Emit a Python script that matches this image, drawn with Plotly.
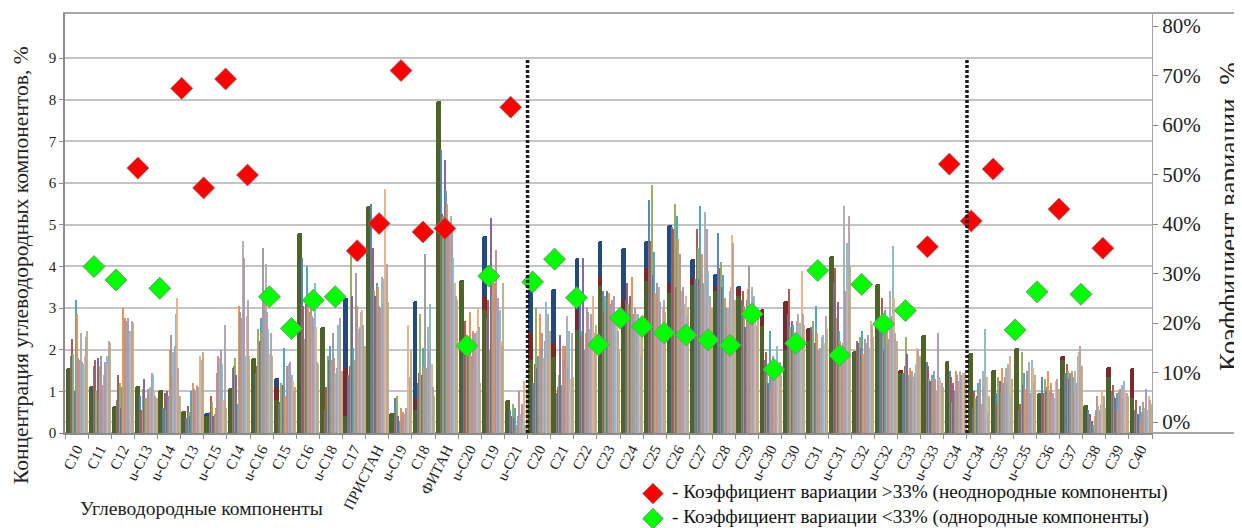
import plotly.graph_objects as go

# ---------------- data ----------------
categories = ["C10", "C11", "C12", "u-C13", "u-C14", "C13", "u-C15", "C14", "u-C16", "C15",
              "C16", "u-C18", "C17", "ПРИСТАН", "u-C19", "C18", "ФИТАН", "u-C20", "C19", "u-C21",
              "C20", "C21", "C22", "C23", "C24", "C25", "C26", "C27", "C28", "C29",
              "u-C30", "C30", "C31", "u-C31", "C32", "u-C32", "C33", "u-C33", "C34", "u-C34",
              "C35", "u-C35", "C36", "C37", "C38", "C39", "C40"]

# thick (highlighted) samples
navy_sample = [None, None, None, None, 0.67, None, 0.47, None, None, 1.31,
               3.52, None, 3.24, 4.75, None, 3.18, 6.48, 2.75, 4.74, None,
               3.46, 3.46, 4.2, 4.6, 4.44, 4.62, 5.0, 4.18, 3.82, 3.52,
               None, None, None, None, None, None, None, None, None, None,
               None, None, None, None, None, None, None]
darkred_sample = [None, None, None, None, None, None, None, None, None, 1.1,
                  None, None, 1.56, None, None, 0.83, None, None, 3.3, None,
                  2.4, 2.15, 2.96, 3.76, 3.2, 3.96, 3.61, 3.72, 3.53, 3.48,
                  2.97, 3.16, 2.52, None, None, None, 1.51, None, None, None,
                  None, None, 0.9, 1.85, 0.6, 1.58, 1.55]
olive_sample = [1.57, 1.13, 0.66, 1.13, 1.03, 0.53, 0.42, 1.07, 1.80, 0.79,
                4.8, 2.55, 0.4, 5.46, 0.47, 0.55, 7.96, 3.68, 2.96, 0.79,
                1.75, 1.83, 2.48, 3.52, 2.88, 3.64, 3.36, 3.56, 3.42, 3.28,
                2.56, 2.0, 2.2, 4.25, 1.98, 3.58, 1.45, 2.36, 1.73, 1.93,
                1.51, 2.03, 0.95, 1.75, 0.67, 1.35, 0.85]

# other samples, one list per component (concentration, %)
thin_C10 = [1.85, 2.25, 1.9, 1.0, 3.2, 2.85, 1.8, 1.75, 2.4, 1.7, 1.65, 1.85, 2.3, 2.45]
thin_C11 = [1.6, 1.75, 1.0, 1.8, 0.8, 1.6, 1.85, 1.15, 1.4, 1.7, 1.85, 1.6, 2.2, 2.15]
thin_C12 = [0.8, 1.4, 1.2, 0.6, 1.1, 3.0, 2.75, 2.7, 2.6, 2.75, 2.45, 2.4, 2.7, 2.65]
thin_iC13 = [0.9, 0.55, 1.05, 1.3, 0.85, 0.85, 1.05, 0.9, 1.1, 1.45, 1.4, 1.0, 0.9, 0.85]
thin_iC14 = [0.6, 0.95, 0.55, 1.0, 0.9, 2.0, 2.35, 1.35, 1.95, 2.1, 2.85, 3.25, 1.55, 0.9]
thin_C13 = [0.35, 0.65, 0.5, 0.4, 1.0, 1.2, 1.05, 1.0, 1.15, 1.1, 1.05, 1.85, 1.75, 1.95]
thin_iC15 = [0.5, 0.9, 0.75, 0.4, 0.45, 0.6, 1.45, 1.85, 1.8, 2.0, 1.65, 0.8, 2.6, 0.6]
thin_C14 = [1.55, 1.6, 1.8, 1.4, 0.7, 3.05, 2.9, 2.75, 4.6, 4.2, 1.85, 2.8, 3.2, 1.85]
thin_iC16 = [1.45, 1.6, 2.5, 2.2, 2.75, 2.4, 4.45, 3.4, 4.05, 2.9, 2.5, 1.9, 2.4, 1.85]
thin_C15 = [0.7, 0.75, 1.2, 1.15, 2.05, 0.9, 1.6, 1.55, 1.65, 1.7, 1.4, 1.25, 1.0, 1.1]
thin_C16 = [4.2, 3.05, 2.25, 3.1, 4.0, 3.35, 2.9, 3.0, 2.8, 2.75, 3.6, 2.55, 1.7, 1.65]
thin_iC18 = [0.55, 1.1, 1.85, 1.75, 2.1, 1.75, 2.4, 1.8, 1.45, 1.55, 2.6, 1.75, 2.75, 1.5]
thin_C17 = [1.4, 1.6, 4.4, 3.3, 2.05, 1.75, 3.85, 3.05, 2.5, 2.55, 2.9, 2.95, 2.6, 2.1]
thin_pristane = [5.5, 4.45, 3.4, 3.3, 3.6, 3.5, 3.05, 3.0, 3.75, 3.1, 3.7, 5.85, 4.05, 3.15]
thin_iC19 = [0.85, 0.45, 0.9, 0.4, 0.3, 0.6, 0.35, 0.5, 0.45, 0.6, 0.4, 2.6, 1.35, 2.0]
thin_C18 = [1.2, 1.45, 2.85, 1.4, 2.05, 1.6, 4.3, 1.55, 2.55, 2.0, 3.1, 1.65, 1.1, 0.9]
thin_phytane = [6.8, 5.25, 5.2, 6.55, 5.8, 5.5, 5.1, 4.95, 5.2, 4.85, 4.2, 3.6, 3.3, 3.2]
thin_iC20 = [1.95, 2.7, 2.05, 2.05, 2.25, 2.9, 1.85, 2.45, 1.55, 2.4, 2.45, 3.0, 2.55, 1.2]
thin_C19 = [2.75, 3.2, 2.0, 5.15, 3.3, 3.7, 3.6, 4.4, 2.85, 3.25, 2.95, 2.2, 2.1, 3.6]
thin_iC21 = [0.55, 0.4, 0.7, 0.35, 0.6, 0.2, 0.4, 1.0, 0.45, 0.7, 0.3, 1.25, 0.2, 1.05]
thin_C20 = [1.2, 1.65, 3.0, 1.55, 1.85, 2.85, 2.05, 2.4, 1.8, 2.2, 3.15, 1.8, 2.85, 2.45]
thin_C21 = [0.95, 1.1, 1.4, 2.35, 1.15, 2.1, 1.75, 2.1, 2.8, 1.55, 2.45, 1.3, 2.4, 1.35]
thin_C22 = [3.2, 2.3, 2.45, 4.2, 2.0, 2.4, 3.0, 2.9, 2.5, 2.85, 2.55, 3.3, 2.4, 2.6]
thin_C23 = [3.4, 2.9, 3.3, 3.4, 3.25, 3.35, 3.1, 3.2, 3.0, 3.3, 2.75, 2.9, 2.45, 2.0]
thin_C24 = [3.2, 3.6, 3.1, 3.3, 3.0, 3.75, 2.85, 3.0, 2.85, 2.65, 2.85, 2.4, 1.85, 2.3]
thin_C25 = [5.6, 4.6, 5.95, 3.8, 4.35, 3.35, 3.6, 3.25, 3.5, 3.15, 2.45, 3.0, 3.2, 2.9]
thin_C26 = [4.95, 4.9, 5.5, 3.5, 5.2, 4.65, 4.3, 3.2, 3.4, 3.5, 3.1, 3.3, 2.8, 3.0]
thin_C27 = [3.7, 4.9, 4.45, 3.7, 5.45, 4.3, 3.6, 3.4, 5.3, 4.9, 3.9, 3.1, 3.3, 3.0]
thin_C28 = [4.8, 3.95, 4.1, 3.5, 3.8, 3.25, 3.0, 2.6, 3.0, 3.4, 3.5, 4.75, 4.55, 3.2]
thin_C29 = [3.2, 3.4, 3.05, 2.55, 3.2, 3.45, 4.0, 2.7, 3.5, 3.25, 3.3, 2.95, 2.6, 2.8]
thin_iC30 = [1.75, 1.95, 1.4, 1.2, 2.45, 1.05, 1.55, 1.85, 1.45, 1.35, 2.1, 1.55, 1.7, 1.4]
thin_C30 = [2.85, 3.45, 2.55, 2.7, 2.6, 2.35, 2.0, 2.7, 2.85, 2.15, 2.65, 3.9, 2.85, 2.6]
thin_C31 = [2.55, 2.45, 2.7, 2.15, 3.05, 2.4, 2.0, 2.05, 2.05, 2.3, 2.35, 2.15, 2.8, 2.5]
thin_iC31 = [3.6, 3.95, 2.75, 3.15, 2.45, 2.2, 2.0, 2.15, 5.45, 3.4, 4.55, 3.45, 5.2, 4.0]
thin_C32 = [2.2, 2.15, 2.3, 2.05, 2.45, 1.9, 2.25, 2.1, 2.15, 2.35, 2.05, 2.7, 2.6, 2.3]
thin_iC32 = [2.6, 3.25, 2.35, 2.0, 2.95, 2.6, 2.15, 2.25, 3.4, 2.8, 4.5, 3.25, 2.4, 2.2]
thin_C33 = [1.45, 1.6, 2.3, 1.9, 1.4, 1.55, 1.3, 1.5, 1.35, 1.45, 1.65, 2.05, 2.0, 1.85]
thin_iC33 = [1.7, 1.6, 1.3, 1.25, 1.4, 1.3, 1.5, 1.3, 1.0, 2.4, 1.35, 1.3, 1.2, 1.1]
thin_C34 = [1.5, 1.35, 0.75, 1.2, 1.0, 1.5, 1.4, 1.25, 1.5, 1.4, 1.35, 1.45, 1.45, 1.3]
thin_iC34 = [0.6, 1.0, 0.85, 0.9, 1.2, 0.95, 1.3, 0.7, 1.5, 1.1, 2.5, 1.35, 0.5, 0.9]
thin_C35 = [0.95, 0.7, 1.35, 1.25, 0.95, 1.55, 1.2, 1.35, 1.55, 1.2, 1.65, 1.85, 0.9, 1.3]
thin_iC35 = [0.55, 0.7, 1.95, 1.15, 1.45, 1.05, 1.5, 1.5, 1.7, 0.95, 1.75, 1.55, 1.2, 1.4]
thin_C36 = [1.35, 0.95, 1.3, 1.0, 1.1, 1.5, 1.0, 1.2, 0.8, 0.95, 0.85, 1.25, 1.3, 1.05]
thin_C37 = [1.45, 1.65, 1.5, 1.3, 1.45, 1.5, 1.35, 0.95, 1.5, 1.2, 1.85, 1.95, 2.1, 1.6]
thin_C38 = [0.55, 0.45, 0.3, 0.3, 0.2, 0.4, 0.55, 0.9, 0.65, 0.55, 0.7, 1.0, 0.9, 0.6]
thin_C39 = [1.0, 1.15, 0.9, 0.85, 0.95, 0.55, 1.0, 1.05, 1.15, 0.85, 1.25, 1.0, 0.95, 0.9]
thin_C40 = [0.55, 0.8, 0.45, 0.45, 0.65, 0.3, 0.5, 0.75, 0.6, 1.05, 0.55, 0.9, 0.8, 0.7]

# coefficient of variation, % (one per component)
cv_percent = [31.4, 28.7, 51.3, 27.0, 67.4, 47.3, 69.3, 49.9, 25.3, 18.9,
              24.6, 25.3, 34.6, 40.1, 71.0, 38.4, 39.1, 15.4, 29.5, 63.6,
              28.3, 32.9, 25.1, 15.6, 21.0, 19.3, 18.0, 17.6, 16.6, 15.5,
              21.8, 10.6, 15.9, 30.6, 13.5, 27.8, 19.8, 22.5, 35.4, 52.1,
              40.6, 51.1, 18.6, 26.3, 43.0, 25.8, 35.1]
cv_threshold = 33
cv_ticks = [0, 10, 20, 30, 40, 50, 60, 70, 80]

legend_labels = ["- Коэффициент вариации >33% (неоднородные компоненты)",
                 "- Коэффициент вариации <33% (однородные компоненты)"]

divider_after = ["u-C21", "C34"]

# ---------------- build ----------------
thin_rows = [thin_C10, thin_C11, thin_C12, thin_iC13, thin_iC14, thin_C13, thin_iC15, thin_C14,
             thin_iC16, thin_C15, thin_C16, thin_iC18, thin_C17, thin_pristane, thin_iC19,
             thin_C18, thin_phytane, thin_iC20, thin_C19, thin_iC21, thin_C20, thin_C21,
             thin_C22, thin_C23, thin_C24, thin_C25, thin_C26, thin_C27, thin_C28, thin_C29,
             thin_iC30, thin_C30, thin_C31, thin_iC31, thin_C32, thin_iC32, thin_C33, thin_iC33,
             thin_C34, thin_iC34, thin_C35, thin_iC35, thin_C36, thin_C37, thin_C38, thin_C39,
             thin_C40]
n_thin = len(thin_C10)

thin_colors = ["#4F81BD", "#B5504D", "#8FAE55", "#7A61A0", "#4BA3BC", "#E8914A", "#9A9A9A",
               "#C98A88", "#ADADAD", "#A897BD", "#86BCCB", "#EBB184", "#B5A3A3", "#B8AF8A"]

SERIF = "Liberation Serif"

fig = go.Figure()

thick_off, thick_w = -0.47, 0.21
for vals, col in [(navy_sample, "#23497D"), (darkred_sample, "#782A2A"), (olive_sample, "#4F6228")]:
    fig.add_trace(go.Bar(x=categories, y=vals, offset=thick_off, width=thick_w,
                         marker=dict(color=col, line=dict(width=0), cornerradius=2),
                         showlegend=False, hoverinfo="skip"))

thin_start, thin_span = -0.27, 0.76
tw = thin_span / n_thin
for k in range(n_thin):
    fig.add_trace(go.Bar(x=categories, y=[row[k] for row in thin_rows],
                         offset=thin_start + k * tw, width=tw,
                         marker=dict(color=thin_colors[k % len(thin_colors)], line=dict(width=0)),
                         opacity=0.95, showlegend=False, hoverinfo="skip"))

hi_x = [c for c, v in zip(categories, cv_percent) if v > cv_threshold]
hi_y = [v for v in cv_percent if v > cv_threshold]
lo_x = [c for c, v in zip(categories, cv_percent) if v <= cv_threshold]
lo_y = [v for v in cv_percent if v <= cv_threshold]

# legend shows the symbols; the long labels are placed as text next to them
fig.add_trace(go.Scatter(x=hi_x, y=hi_y, mode="markers", xaxis="x2", yaxis="y2",
                         name=" ", legendrank=1,
                         marker=dict(symbol="diamond", size=17, color="#FF0000",
                                     line=dict(color="#7F7F7F", width=0.8))))
fig.add_trace(go.Scatter(x=lo_x, y=lo_y, mode="markers", xaxis="x2", yaxis="y2",
                         name="  ", legendrank=2,
                         marker=dict(symbol="diamond", size=17, color="#00FF00",
                                     line=dict(color="#7F7F7F", width=0.8))))

# geometry (page has an 8px body margin, so positions are given in page pixels)
OFF = 8
W, H = 1242, 528
PL, PR, PT, PB = 65, 1152, 13, 433          # plot area on the page
L, R, T, B = PL - OFF, W - (PR - OFF), PT - OFF, H - (PB - OFF)
plot_w = PR - PL
plot_h = PB - PT


def px(xp):
    return (xp - PL) / plot_w


def py(yp):
    return (PB - yp) / plot_h


shapes = []
for name in divider_after:
    xi = categories.index(name) + 0.5
    shapes.append(dict(type="line", xref="x", yref="y", x0=xi, x1=xi, y0=0, y1=9,
                       line=dict(color="#1A1A1A", width=3.5, dash="3px,2px"), layer="above"))
# zero line of secondary axis
shapes.append(dict(type="line", xref="paper", yref="y2", x0=0, x1=1, y0=0, y1=0,
                   line=dict(color="#BFBFBF", width=1.5), layer="below"))
# outer frame
shapes.append(dict(type="rect", xref="paper", yref="paper", x0=-0.001, x1=px(1260),
                   y0=0, y1=1, line=dict(color="#8C8C8C", width=1.5), layer="below"))

annotations = [
    dict(text="Концентрация углеводородных компонентов, %", xref="paper", yref="paper",
         x=px(21), y=py(265), textangle=-90, showarrow=False,
         font=dict(family=SERIF, size=21.5, color="#222222"), xanchor="center", yanchor="middle"),
    dict(text="Коэффициент вариации, %", xref="paper", yref="paper",
         x=px(1229), y=py(217), textangle=-90, showarrow=False,
         font=dict(family=SERIF, size=27, color="#222222"), xanchor="center", yanchor="middle"),
    dict(text="Углеводородные компоненты", xref="paper", yref="paper",
         x=px(201), y=py(508), showarrow=False,
         font=dict(family=SERIF, size=19.5, color="#222222"), xanchor="center", yanchor="middle"),
]
for i, lab in enumerate(legend_labels):
    annotations.append(dict(text=lab, xref="paper", yref="paper", x=px(670), y=py(492 + 25 * i),
                            showarrow=False, xanchor="left", yanchor="middle",
                            font=dict(family=SERIF, size=19.2, color="#111111")))

fig.update_layout(
    width=W, height=H,
    margin=dict(l=L, r=R, t=T, b=B, autoexpand=False),
    paper_bgcolor="white", plot_bgcolor="white",
    barmode="overlay", bargap=0,
    font=dict(family=SERIF, color="#222222"),
    shapes=shapes,
    annotations=annotations,
    xaxis=dict(type="category", categoryorder="array", categoryarray=categories,
               range=[-0.5, len(categories) - 0.5], tickangle=-63, automargin=False,
               tickfont=dict(family=SERIF, size=15, color="#222222"),
               ticks="outside", ticklen=4, tickcolor="#8C8C8C", tickson="boundaries",
               showline=True, linecolor="#8C8C8C", linewidth=1.5, showgrid=False),
    xaxis2=dict(type="category", categoryorder="array", categoryarray=categories,
                overlaying="x", anchor="y2", visible=False,
                range=[-1.322, 48.24]),
    yaxis=dict(range=[0, 10.08], tickvals=list(range(0, 10)), automargin=False,
               tickfont=dict(family=SERIF, size=15, color="#222222"),
               ticks="outside", ticklen=4, tickcolor="#8C8C8C",
               showgrid=True, gridcolor="#C4C4C4", gridwidth=1.6,
               showline=True, linecolor="#8C8C8C", linewidth=1.5, zeroline=False),
    yaxis2=dict(range=[-2.22, 82.63], tickmode="array", tickvals=cv_ticks,
                ticktext=[f"{v}%" for v in cv_ticks], automargin=False,
                side="right", overlaying="y", anchor="x2",
                tickfont=dict(family=SERIF, size=21, color="#222222"),
                ticks="outside", ticklen=5, tickcolor="#8C8C8C",
                showline=True, linecolor="#A6A6A6", linewidth=1, showgrid=False,
                zeroline=False),
    legend=dict(x=px(633), y=py(476), xanchor="left", yanchor="top",
                font=dict(family=SERIF, size=17, color="#111111"),
                bgcolor="rgba(0,0,0,0)", tracegroupgap=0, itemsizing="trace"),
)

fig.write_html("out.html")
